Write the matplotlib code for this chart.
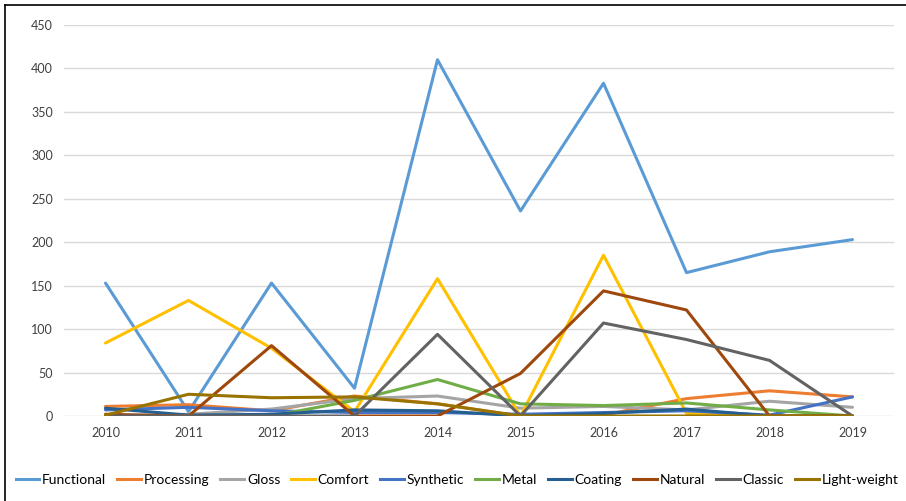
import matplotlib
matplotlib.use("Agg")
import matplotlib.pyplot as plt
from matplotlib.lines import Line2D

years = ["2010", "2011", "2012", "2013", "2014", "2015", "2016", "2017", "2018", "2019"]

functional = [153, 5, 153, 32, 410, 236, 383, 165, 189, 203]
processing = [11, 13, 6, 23, 14, 0, 1, 20, 29, 22]
gloss = [0, 2, 8, 20, 23, 9, 11, 7, 17, 10]
comfort = [84, 133, 78, 5, 158, 0, 185, 3, 0, 0]
synthetic = [7, 10, 6, 4, 4, 2, 4, 6, 1, 22]
metal = [0, 0, 0, 18, 42, 14, 12, 15, 7, 0]
coating = [9, 1, 2, 7, 6, 0, 3, 8, 0, 0]
natural = [2, 0, 81, 0, 0, 49, 144, 122, 0, 0]
classic = [0, 0, 0, 0, 94, 0, 107, 88, 64, 0]
lightweight = [1, 25, 21, 22, 14, 0, 0, 0, 0, 0]

series_names = ["Functional", "Processing", "Gloss", "Comfort", "Synthetic",
                "Metal", "Coating", "Natural", "Classic", "Light-weight"]
series_values = [functional, processing, gloss, comfort, synthetic,
                 metal, coating, natural, classic, lightweight]
colors = ["#5B9BD5", "#ED7D31", "#A5A5A5", "#FFC000", "#4472C4",
          "#70AD47", "#255E91", "#9E480E", "#636363", "#997300"]

yticks = [0, 50, 100, 150, 200, 250, 300, 350, 400, 450]

plt.rcParams['font.family'] = ['Lato', 'DejaVu Sans']

fig = plt.figure(figsize=(9.06, 5.01), dpi=100)
ax = fig.add_axes([64 / 906, 85 / 501, 830 / 906, 391 / 501])

x = list(range(len(years)))
for name, vals, c in zip(series_names, series_values, colors):
    ax.plot(x, vals, color=c, lw=2.2, label=name, solid_joinstyle='round',
            solid_capstyle='round')

ax.set_xlim(-0.5, len(years) - 0.5)
ax.set_ylim(0, 450)
ax.set_yticks(yticks)
ax.set_yticklabels([str(v) for v in yticks])
ax.set_xticks(x)
ax.set_xticklabels(years)
ax.yaxis.grid(True, color="#D9D9D9", lw=1)
ax.set_axisbelow(True)
for s in ax.spines.values():
    s.set_visible(False)
ax.tick_params(axis='both', length=0, labelsize=9, labelcolor="#404040")
ax.tick_params(axis='y', pad=8)
ax.tick_params(axis='x', pad=8)

handles = [Line2D([0], [0], color=c, lw=2.2) for c in colors]
fig.legend(handles, series_names, loc='center', bbox_to_anchor=(457 / 906, 1 - 480 / 501),
           ncol=10, frameon=False, fontsize=10, handlelength=1.7, handletextpad=0.2,
           columnspacing=0.8)

# figure frame (left and top)
fig.add_artist(Line2D([5 / 906, 5 / 906], [0, 1 - 5 / 501], color="black", lw=1.2,
                      transform=fig.transFigure))
fig.add_artist(Line2D([5 / 906, 1], [1 - 5 / 501, 1 - 5 / 501], color="black", lw=1.2,
                      transform=fig.transFigure))

fig.savefig("out.png", dpi=100)
